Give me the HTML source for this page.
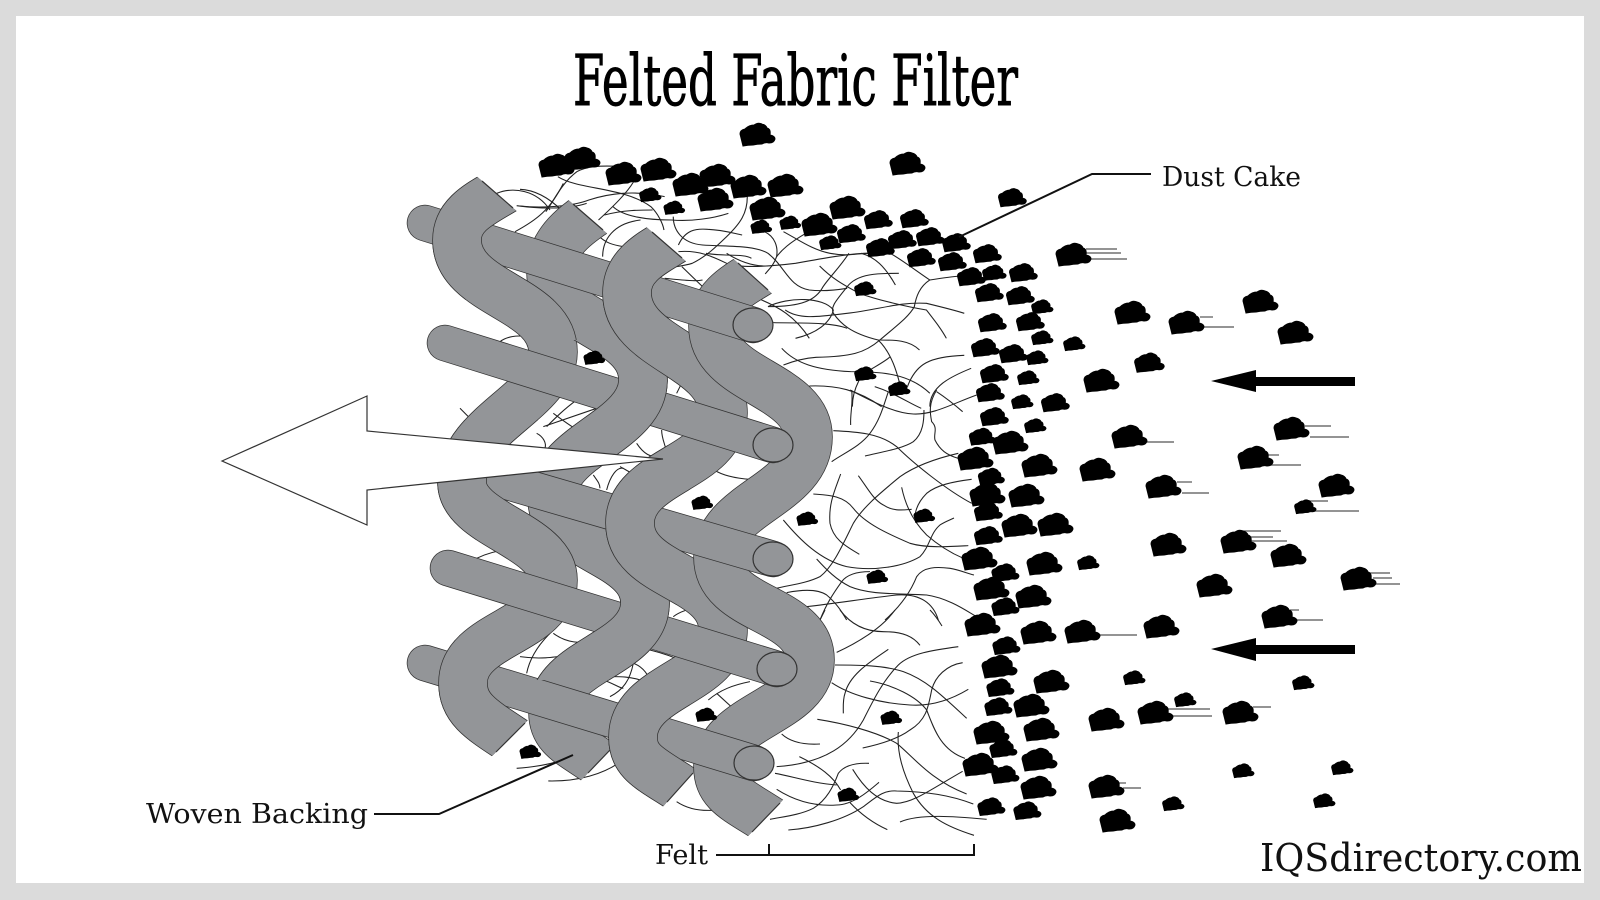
<!DOCTYPE html>
<html><head><meta charset="utf-8"><style>
html,body{margin:0;padding:0;background:#dbdbdb;width:1600px;height:900px;overflow:hidden}
svg{display:block}
.o{fill:none;stroke:#333;stroke-width:49.5}
.g{fill:none;stroke:#939598;stroke-width:48}
.fb{fill:none;stroke:#222;stroke-width:3.2}
.ln{stroke:#555;stroke-width:1.2}
text{font-family:"DejaVu Serif","Liberation Serif",serif;fill:#111}
</style></head><body>
<svg width="1600" height="900" viewBox="0 0 1600 900" xmlns="http://www.w3.org/2000/svg">
<defs>
<path id="r1" d="M510,186 C485,202 457,212 457,240 C457,295 553,297 553,352 C553,400 462,425 462,482 C462,525 553,535 553,580 C553,632 463,632 463,683 C463,712 486,722 526,749"/>
<path id="r2" d="M601,208 C576,224 551,242 551,272 C551,325 643,325 643,380 C643,432 552,445 552,498 C552,550 645,550 645,603 C645,655 553,660 553,712 C553,740 575,744 612,772"/>
<path id="p3" d="M680,236 C655,252 627,263 627,293 C627,350 723,355 723,413 C723,468 630,470 630,523 C630,578 723,575 723,630 C723,682 633,685 633,737 C633,765 655,770 692,796"/>
<path id="p4" d="M766,268 C741,284 713,296 713,326 C713,382 808,383 808,437 C808,495 718,503 718,557 C718,612 810,606 810,660 C810,712 718,715 718,767 C718,795 740,800 778,826"/>
<path id="b" d="M-14,11 L-17,-1 Q-17,-5 -12,-6 Q-8,-10 -3,-10 Q1,-13 5,-11 Q9,-10 10,-7 Q14,-6 13,0 Q18,1 18,4 Q17,8 12,8 Q8,7 5,9 Q0,9 -4,10 Q-9,10 -14,11 Z" fill="#000" stroke="#000" stroke-width="1"/>
<clipPath id="e1"><polygon points="400,110 482,181 513,208 620,300 620,628 525,723 496,752 400,848 300,848 300,110"/></clipPath>
<clipPath id="e2"><polygon points="491,133 573,204 603,230 710,323 710,645 610,750 588,773 490,875 390,875 390,133"/></clipPath>
<clipPath id="e3"><polygon points="570,161 652,232 682,258 790,352 790,665 693,773 667,802 570,910 470,910 470,161"/></clipPath>
<clipPath id="e4"><polygon points="650,184 738,263 768,290 880,391 880,699 780,803 752,832 650,938 550,938 550,184"/></clipPath>
<g id="R1" clip-path="url(#e1)"><use href="#r1" class="o"/><use href="#r1" class="g"/></g>
<g id="R2" clip-path="url(#e2)"><use href="#r2" class="o"/><use href="#r2" class="g"/></g>
<g id="P3" clip-path="url(#e3)"><use href="#p3" class="o"/><use href="#p3" class="g"/></g>
<g id="P4" clip-path="url(#e4)"><use href="#p4" class="o"/><use href="#p4" class="g"/></g>
<clipPath id="c1"><rect x="300" y="100" width="500" height="200"/><rect x="300" y="420" width="500" height="120"/><rect x="300" y="640" width="500" height="200"/></clipPath>
<clipPath id="c2"><rect x="500" y="340" width="300" height="130"/><rect x="500" y="565" width="300" height="115"/></clipPath>
<clipPath id="c3"><rect x="500" y="100" width="188" height="295"/><rect x="500" y="445" width="190" height="160"/><rect x="500" y="672" width="190" height="200"/></clipPath>
</defs>

<rect x="16" y="16" width="1568" height="867" fill="#fff"/>

<text x="573" y="105" font-size="70" textLength="445" lengthAdjust="spacingAndGlyphs" style="fill:#000;stroke:#000;stroke-width:.9">Felted Fabric Filter</text>

<!-- fibres -->
<g transform="translate(520,110) scale(.3444,.3333)" class="fb">
<path d="M110,200 C170,240 300,230 380,290 C400,310 415,340 418,360"/>
<path d="M0,238 C50,240 90,270 120,300"/>
<path d="M0,288 C60,295 150,290 200,270 C260,250 330,240 420,260"/>
<path d="M75,305 C100,270 120,220 165,185 C190,170 230,165 300,170"/>
<path d="M228,330 C270,290 310,250 330,215"/>
<path d="M245,315 C300,300 350,300 385,300"/>
<path d="M270,290 C300,320 370,330 440,330 C500,335 560,325 605,310"/>
<path d="M660,260 C660,310 640,340 600,380 C570,410 540,440 500,460 C470,470 440,470 410,480"/>
<path d="M445,320 C445,360 470,400 530,405 C600,410 680,405 720,430 C770,470 780,530 840,540 C880,545 920,540 950,535"/>
<path d="M460,405 C480,360 510,355 545,358 C590,360 620,370 645,375"/>
<path d="M240,440 C240,390 270,340 350,330"/>
<path d="M225,375 C250,400 270,405 300,410"/>
<path d="M710,365 C740,380 750,410 745,440 C735,470 720,480 712,492"/>
<path d="M830,370 C780,400 760,420 745,440"/>
<path d="M765,365 C810,390 850,420 900,430 C950,440 980,430 1010,430"/>
<path d="M955,430 C930,470 900,500 880,530 C860,570 820,590 720,590"/>
<path d="M870,468 C910,510 950,530 985,550 C1040,570 1120,590 1180,600 C1210,640 1225,660 1238,685"/>
<path d="M1075,430 C1110,450 1160,490 1190,510 C1220,505 1250,500 1280,498"/>
<path d="M1190,510 C1160,530 1150,560 1145,590 C1130,620 1090,650 1045,690 C1000,730 960,740 860,742 C820,745 790,755 765,765"/>
<path d="M1100,490 C1040,490 980,490 950,530 C920,570 900,590 910,610 C930,640 960,670 1040,690 C1090,690 1130,690 1160,720"/>
<path d="M1090,525 C1060,470 1030,440 990,430"/>
<path d="M460,425 C520,420 560,440 600,460 C640,475 720,470 800,460 C880,445 960,430 1010,430"/>
<path d="M600,430 C630,450 670,470 720,468"/>
<path d="M540,430 C590,440 650,430 672,445"/>
<path d="M470,470 C480,480 510,510 530,530"/>
<path d="M420,505 C470,510 510,515 530,510"/>
<path d="M690,565 C750,590 800,620 840,685"/>
<path d="M720,590 C780,560 880,560 910,600"/>
<path d="M770,600 C810,630 870,620 950,610 C1040,600 1100,575 1180,580 C1220,590 1260,600 1290,610"/>
<path d="M735,638 C800,640 900,635 950,655"/>
<path d="M800,685 C860,670 900,640 910,600"/>
<path d="M760,715 C800,760 860,780 960,785 C1050,785 1130,790 1190,850"/>
<path d="M1040,690 C1080,730 1095,790 1105,830"/>
<path d="M1000,790 C1030,770 1060,755 1075,740"/>
<path d="M1125,830 C1150,760 1190,740 1290,736"/>
<path d="M1310,775 C1250,800 1190,830 1190,890"/>
<path d="M985,810 C970,840 965,870 965,890"/>
<path d="M840,828 C920,825 980,840 1050,890"/>
<path d="M1030,830 C1090,850 1130,880 1165,895"/>
</g>
<g transform="translate(770,390) scale(.3333)" class="fb">
<path d="M245,0 C250,40 240,70 242,105"/>
<path d="M240,0 C300,30 370,70 430,72 C490,75 550,40 620,15"/>
<path d="M355,5 C340,50 330,90 300,130 C270,170 220,190 185,215"/>
<path d="M190,122 C260,125 330,130 380,170 C430,220 530,300 605,340"/>
<path d="M285,198 C340,185 400,175 430,155 C460,130 462,90 462,60"/>
<path d="M500,0 C475,40 480,70 485,95 C505,115 490,130 495,150 C510,180 530,195 565,205"/>
<path d="M500,5 C530,25 555,45 578,65"/>
<path d="M565,190 C500,205 440,225 390,260 C330,310 280,350 250,400 C220,460 190,530 150,560 C110,580 60,585 20,595"/>
<path d="M212,252 C195,300 175,340 180,400 C190,450 230,470 268,493"/>
<path d="M265,257 C290,290 310,330 340,345 C370,365 400,360 425,358"/>
<path d="M395,292 C405,340 425,390 470,435 C510,470 545,490 580,505"/>
<path d="M605,268 C550,275 500,285 470,310 C445,335 435,360 435,385"/>
<path d="M130,312 C170,315 220,315 250,355 C285,400 350,430 420,460 C470,475 540,470 595,467"/>
<path d="M40,390 C90,450 150,510 230,530 C310,545 400,530 450,500 C480,470 480,430 510,405 C525,395 540,390 552,384"/>
<path d="M140,507 C170,540 200,570 240,590 C300,615 380,610 470,615 C540,625 600,670 620,680"/>
<path d="M300,545 C260,545 230,555 215,575 C190,610 170,640 150,690"/>
<path d="M50,608 C90,600 140,595 170,615 C200,640 215,665 230,690"/>
<path d="M110,650 C200,640 290,625 380,615 C450,610 490,640 505,690"/>
<path d="M345,690 C390,650 420,610 440,560 C460,530 500,530 540,535 C570,540 590,550 612,555"/>
</g>
<g transform="translate(770,610) scale(.3333)" class="fb">
<path d="M165,0 L150,30"/>
<path d="M210,0 C240,40 280,65 340,65 C400,65 430,80 450,106"/>
<path d="M375,0 C340,50 270,95 200,127"/>
<path d="M480,0 C495,15 505,30 516,48"/>
<path d="M355,118 C310,150 240,190 225,250 C218,270 220,290 220,310"/>
<path d="M195,165 C260,165 340,165 400,185 C470,210 520,260 590,325"/>
<path d="M565,110 C490,120 420,130 385,165 C340,210 310,270 280,330 C240,400 170,460 20,470"/>
<path d="M578,158 C530,165 495,200 485,240 C475,290 470,330 420,360 C380,390 320,405 278,414"/>
<path d="M185,218 C240,255 330,280 420,285 C490,290 550,265 595,238"/>
<path d="M300,213 C370,225 440,260 470,300 C490,350 510,420 585,445"/>
<path d="M142,328 C220,340 320,365 380,400 C430,440 480,510 590,552"/>
<path d="M35,372 C60,395 100,405 150,402"/>
<path d="M385,366 C380,430 400,490 430,550 C470,620 530,650 612,676"/>
<path d="M88,440 C150,470 190,500 212,540"/>
<path d="M15,490 C70,500 130,520 200,525"/>
<path d="M297,460 C250,458 220,470 205,490 C190,530 170,570 130,595 C90,615 40,620 0,628"/>
<path d="M20,538 C70,570 130,590 200,585 C250,585 300,540 327,517"/>
<path d="M248,478 C280,530 320,575 380,580 C430,578 480,540 578,484"/>
<path d="M55,660 C130,655 220,630 280,590 C320,560 340,540 380,543 C470,545 540,555 610,582"/>
<path d="M240,578 C270,610 310,640 352,659"/>
<path d="M390,636 C450,610 560,620 650,628"/>
</g>
<g transform="translate(380,160) scale(.3333)" class="fb">
<path d="M350,100 C400,80 470,90 510,150"/>
<path d="M410,137 C470,145 560,150 620,130"/>
<path d="M405,215 C470,180 510,150 550,70"/>
<path d="M240,745 L275,780"/>
<path d="M360,545 C380,530 410,525 440,530"/>
<path d="M470,820 C490,830 500,850 495,865"/>
<path d="M490,800 L650,745"/>
<path d="M520,760 C560,790 590,810 610,820"/>
<path d="M500,800 C530,770 550,750 590,720"/>
<path d="M845,810 C845,840 860,860 860,885"/>
<path d="M770,850 C790,880 810,895 850,890"/>
<path d="M890,700 L915,650"/>
<path d="M640,945 C650,960 660,970 660,985"/>
<path d="M680,990 C690,950 710,920 730,925"/>
<path d="M720,920 C740,930 760,945 770,945"/>
<path d="M965,895 C990,930 1030,960 1160,960"/>
</g>
<g transform="translate(380,480) scale(.3333)" class="fb">
<path d="M290,235 C320,220 360,210 400,208"/>
<path d="M880,410 C920,380 980,375 1090,380"/>
<path d="M520,460 C560,490 600,490 650,485"/>
<path d="M440,580 C450,530 480,490 510,460"/>
<path d="M420,530 C490,540 530,530 600,520"/>
<path d="M810,510 C850,520 880,530 910,545"/>
<path d="M670,600 C700,610 720,625 730,625"/>
<path d="M690,650 C730,630 750,600 760,550"/>
<path d="M760,550 C790,560 810,590 810,610"/>
<path d="M700,590 C720,590 750,590 780,600"/>
<path d="M410,865 C480,860 530,850 570,830"/>
<path d="M505,903 C600,905 670,880 715,850"/>
<path d="M985,660 C1020,630 1060,615 1110,605"/>
<path d="M1010,640 L1070,695"/>
<path d="M890,965 C920,985 960,995 1010,990"/>
</g>

<!-- ribbons, back layer -->
<use href="#R2"/><use href="#P3"/><use href="#P4"/><use href="#R1"/>

<!-- rods -->
<g fill="none" stroke-linecap="round">
<g stroke="#333" stroke-width="36.5">
<line x1="425" y1="223" x2="753" y2="325"/><line x1="445" y1="343" x2="773" y2="445"/><line x1="470" y1="471" x2="773" y2="559"/><line x1="448" y1="568" x2="777" y2="669"/><line x1="425" y1="663" x2="754" y2="763"/>
</g>
<g stroke="#939598" stroke-width="35">
<line x1="425" y1="223" x2="753" y2="325"/><line x1="445" y1="343" x2="773" y2="445"/><line x1="470" y1="471" x2="773" y2="559"/><line x1="448" y1="568" x2="777" y2="669"/><line x1="425" y1="663" x2="754" y2="763"/>
</g>
</g>
<g fill="#939598" stroke="#333" stroke-width="1.2">
<ellipse cx="753" cy="325" rx="20" ry="17"/><ellipse cx="773" cy="445" rx="20" ry="17"/><ellipse cx="773" cy="559" rx="20" ry="17"/><ellipse cx="777" cy="669" rx="20" ry="17"/><ellipse cx="754" cy="763" rx="20" ry="17"/>
</g>

<!-- ribbons, front segments -->
<g clip-path="url(#c2)"><use href="#R2"/></g>
<g clip-path="url(#c1)"><use href="#R1"/></g>
<g clip-path="url(#c3)"><use href="#P3"/></g>

<!-- ribbon end caps -->
<g stroke="#333" stroke-width="1.2">
<line x1="482" y1="181" x2="513" y2="208"/><line x1="496" y1="752" x2="525" y2="723"/>
<line x1="573" y1="204" x2="603" y2="230"/><line x1="588" y1="773" x2="610" y2="750"/>
<line x1="652" y1="232" x2="682" y2="258"/><line x1="667" y1="802" x2="693" y2="773"/>
<line x1="738" y1="263" x2="768" y2="290"/><line x1="752" y1="832" x2="780" y2="803"/>
</g>

<!-- white arrow -->
<polygon points="222,461 367,396 367,431 663,459 367,490 367,525" fill="#fff" stroke="#333" stroke-width="1.2"/>

<!-- speed lines -->
<g class="ln">
<line x1="1086" y1="249" x2="1117" y2="249"/><line x1="1086" y1="253" x2="1121" y2="253"/><line x1="1091" y1="259" x2="1127" y2="259"/>
<line x1="1200" y1="317" x2="1213" y2="317"/><line x1="1203" y1="327" x2="1234" y2="327"/>
<line x1="1147" y1="442" x2="1174" y2="442"/><line x1="1305" y1="426" x2="1331" y2="426"/><line x1="1310" y1="437" x2="1349" y2="437"/>
<line x1="1268" y1="455" x2="1279" y2="455"/><line x1="1270" y1="465" x2="1301" y2="465"/>
<line x1="1177" y1="482" x2="1192" y2="482"/><line x1="1182" y1="493" x2="1209" y2="493"/>
<line x1="1308" y1="501" x2="1328" y2="501"/><line x1="1313" y1="511" x2="1359" y2="511"/>
<line x1="1237" y1="531" x2="1281" y2="531"/><line x1="1250" y1="537" x2="1273" y2="537"/><line x1="1250" y1="541" x2="1287" y2="541"/>
<line x1="1370" y1="573" x2="1390" y2="573"/><line x1="1373" y1="578" x2="1392" y2="578"/><line x1="1375" y1="584" x2="1400" y2="584"/>
<line x1="1290" y1="610" x2="1299" y2="610"/><line x1="1297" y1="620" x2="1323" y2="620"/>
<line x1="1100" y1="635" x2="1137" y2="635"/>
<line x1="1168" y1="709" x2="1210" y2="709"/><line x1="1173" y1="716" x2="1212" y2="716"/>
<line x1="1253" y1="707" x2="1271" y2="707"/>
<line x1="1118" y1="783" x2="1126" y2="783"/><line x1="1123" y1="788" x2="1141" y2="788"/>
</g>

<!-- dust, large -->
<g id="L">
<use href="#b" transform="translate(757,135)"/><use href="#b" transform="translate(907,164)"/>
<use href="#b" transform="translate(556,166)"/><use href="#b" transform="translate(582,159)"/><use href="#b" transform="translate(623,174)"/><use href="#b" transform="translate(658,170)"/>
<use href="#b" transform="translate(690,185)"/><use href="#b" transform="translate(717,176)"/><use href="#b" transform="translate(715,200)"/><use href="#b" transform="translate(748,187)"/><use href="#b" transform="translate(785,186)"/><use href="#b" transform="translate(767,209)"/>
<use href="#b" transform="translate(819,225)"/><use href="#b" transform="translate(847,208)"/>
<use href="#b" transform="translate(1073,255)"/><use href="#b" transform="translate(1132,313)"/><use href="#b" transform="translate(1186,323)"/><use href="#b" transform="translate(1260,302)"/><use href="#b" transform="translate(1295,333)"/><use href="#b" transform="translate(1101,381)"/>
<use href="#b" transform="translate(1010,443)"/><use href="#b" transform="translate(975,459)"/><use href="#b" transform="translate(1039,466)"/><use href="#b" transform="translate(1097,470)"/><use href="#b" transform="translate(1129,437)"/><use href="#b" transform="translate(1291,429)"/><use href="#b" transform="translate(1255,458)"/><use href="#b" transform="translate(1163,487)"/><use href="#b" transform="translate(1336,486)"/>
<use href="#b" transform="translate(987,495)"/><use href="#b" transform="translate(1026,496)"/><use href="#b" transform="translate(1019,526)"/><use href="#b" transform="translate(1055,525)"/><use href="#b" transform="translate(979,559)"/><use href="#b" transform="translate(1044,564)"/>
<use href="#b" transform="translate(1168,545)"/><use href="#b" transform="translate(1238,542)"/><use href="#b" transform="translate(1288,556)"/><use href="#b" transform="translate(991,589)"/><use href="#b" transform="translate(1033,597)"/><use href="#b" transform="translate(1214,586)"/><use href="#b" transform="translate(1358,579)"/><use href="#b" transform="translate(1279,617)"/>
<use href="#b" transform="translate(982,625)"/><use href="#b" transform="translate(1038,633)"/><use href="#b" transform="translate(1082,632)"/><use href="#b" transform="translate(1161,627)"/><use href="#b" transform="translate(999,667)"/><use href="#b" transform="translate(1051,682)"/><use href="#b" transform="translate(1031,706)"/>
<use href="#b" transform="translate(1106,720)"/><use href="#b" transform="translate(1155,713)"/><use href="#b" transform="translate(1240,713)"/><use href="#b" transform="translate(991,733)"/><use href="#b" transform="translate(1041,730)"/><use href="#b" transform="translate(1039,760)"/><use href="#b" transform="translate(980,765)"/><use href="#b" transform="translate(1038,788)"/><use href="#b" transform="translate(1106,787)"/><use href="#b" transform="translate(1117,821)"/>
</g>
<!-- dust, medium -->
<g>
<use href="#b" transform="translate(1012,198) scale(.8)"/><use href="#b" transform="translate(878,220) scale(.8)"/><use href="#b" transform="translate(914,219) scale(.8)"/><use href="#b" transform="translate(851,234) scale(.8)"/><use href="#b" transform="translate(902,240) scale(.8)"/><use href="#b" transform="translate(930,237) scale(.8)"/><use href="#b" transform="translate(880,248) scale(.8)"/><use href="#b" transform="translate(921,258) scale(.8)"/><use href="#b" transform="translate(956,243) scale(.8)"/><use href="#b" transform="translate(952,262) scale(.8)"/><use href="#b" transform="translate(987,254) scale(.8)"/><use href="#b" transform="translate(971,277) scale(.8)"/><use href="#b" transform="translate(994,273) scale(.68)"/><use href="#b" transform="translate(1023,273) scale(.8)"/><use href="#b" transform="translate(989,293) scale(.8)"/><use href="#b" transform="translate(1020,296) scale(.8)"/><use href="#b" transform="translate(992,323) scale(.8)"/><use href="#b" transform="translate(1030,322) scale(.8)"/><use href="#b" transform="translate(985,348) scale(.8)"/><use href="#b" transform="translate(1013,354) scale(.8)"/><use href="#b" transform="translate(994,374) scale(.8)"/><use href="#b" transform="translate(990,393) scale(.8)"/><use href="#b" transform="translate(1149,363) scale(.85)"/><use href="#b" transform="translate(1055,403) scale(.8)"/>
<use href="#b" transform="translate(994,417) scale(.8)"/><use href="#b" transform="translate(982,437) scale(.75)"/><use href="#b" transform="translate(991,477) scale(.75)"/><use href="#b" transform="translate(988,512) scale(.8)"/><use href="#b" transform="translate(988,536) scale(.8)"/><use href="#b" transform="translate(1005,573) scale(.78)"/><use href="#b" transform="translate(1005,607) scale(.78)"/><use href="#b" transform="translate(1006,646) scale(.78)"/><use href="#b" transform="translate(1000,688) scale(.78)"/><use href="#b" transform="translate(998,707) scale(.78)"/><use href="#b" transform="translate(1003,749) scale(.78)"/><use href="#b" transform="translate(1005,775) scale(.78)"/><use href="#b" transform="translate(991,807) scale(.78)"/><use href="#b" transform="translate(1027,811) scale(.78)"/>
</g>
<!-- dust, small -->
<g>
<use href="#b" transform="translate(650,195) scale(.62)"/><use href="#b" transform="translate(674,208) scale(.6)"/><use href="#b" transform="translate(761,227) scale(.6)"/><use href="#b" transform="translate(790,223) scale(.6)"/><use href="#b" transform="translate(830,243) scale(.62)"/><use href="#b" transform="translate(1042,307) scale(.62)"/><use href="#b" transform="translate(1042,338) scale(.62)"/><use href="#b" transform="translate(1037,358) scale(.62)"/><use href="#b" transform="translate(1028,378) scale(.62)"/><use href="#b" transform="translate(1022,402) scale(.62)"/><use href="#b" transform="translate(1074,344) scale(.62)"/><use href="#b" transform="translate(1035,426) scale(.62)"/>
<use href="#b" transform="translate(865,289) scale(.62)"/><use href="#b" transform="translate(865,374) scale(.62)"/><use href="#b" transform="translate(899,389) scale(.62)"/><use href="#b" transform="translate(594,358) scale(.6)"/><use href="#b" transform="translate(702,503) scale(.6)"/><use href="#b" transform="translate(807,519) scale(.6)"/><use href="#b" transform="translate(924,516) scale(.6)"/><use href="#b" transform="translate(877,577) scale(.6)"/><use href="#b" transform="translate(891,718) scale(.6)"/><use href="#b" transform="translate(706,715) scale(.6)"/><use href="#b" transform="translate(530,752) scale(.6)"/><use href="#b" transform="translate(848,795) scale(.6)"/>
<use href="#b" transform="translate(1305,507) scale(.62)"/><use href="#b" transform="translate(1088,563) scale(.62)"/><use href="#b" transform="translate(1134,678) scale(.62)"/><use href="#b" transform="translate(1303,683) scale(.62)"/><use href="#b" transform="translate(1185,700) scale(.62)"/><use href="#b" transform="translate(1243,771) scale(.62)"/><use href="#b" transform="translate(1342,768) scale(.62)"/><use href="#b" transform="translate(1324,801) scale(.62)"/><use href="#b" transform="translate(1173,804) scale(.62)"/>
</g>

<!-- black arrows -->
<polygon points="1211,381 1256,370 1256,377 1355,377 1355,386 1256,386 1256,392" fill="#000"/>
<polygon points="1211,649 1256,638 1256,645 1355,645 1355,654 1256,654 1256,661" fill="#000"/>

<!-- connectors -->
<g fill="none" stroke="#111" stroke-width="2">
<polyline points="959,237 1092,174 1151,174"/>
<polyline points="573,755 439,814 374,814"/>
<line x1="716" y1="855" x2="769" y2="855"/>
<polyline points="769,844 769,855 974,855 974,844"/>
</g>

<text x="1162" y="186" font-size="27" textLength="139" lengthAdjust="spacingAndGlyphs">Dust Cake</text>
<text x="146" y="823" font-size="27" textLength="222" lengthAdjust="spacingAndGlyphs">Woven Backing</text>
<text x="655" y="864" font-size="27" textLength="53" lengthAdjust="spacingAndGlyphs">Felt</text>
<text x="1260" y="871" font-size="38" textLength="322" lengthAdjust="spacingAndGlyphs">IQSdirectory.com</text>
</svg>
</body></html>
